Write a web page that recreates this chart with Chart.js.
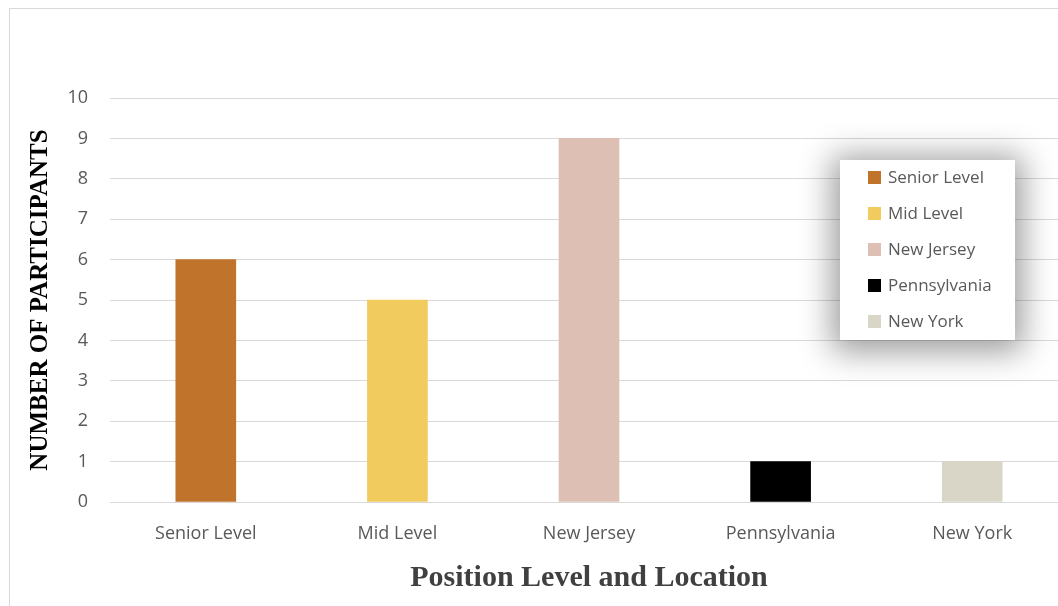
<!DOCTYPE html>
<html>
<head>
<meta charset="utf-8">
<script src="https://cdn.jsdelivr.net/npm/chart.js@4/dist/chart.umd.min.js"></script>
<style>
  html, body { margin: 0; padding: 0; background: #fff; overflow: hidden; }
  #frame {
    position: absolute; left: 9px; top: 8px; width: 1200px; height: 700px;
    border: 1px solid #d9d9d9; box-sizing: border-box;
  }
  #chart { position: absolute; left: 0; top: 0; }
  #legend {
    position: absolute; left: 840px; top: 160px; width: 175px; height: 180px;
    background: #fff; box-shadow: 0 4px 30px 8px rgba(0,0,0,0.38);
    box-sizing: border-box;
  }
  .item {
    position: absolute; left: 28px; height: 24px; line-height: 24px;
    font-family: "Open Sans", sans-serif; font-size: 17px; color: #595959;
    white-space: nowrap;
  }
  .sw { display: inline-block; width: 13px; height: 13px; margin-right: 7px; vertical-align: -1px; }
</style>
</head>
<body>
<div id="frame"></div>
<canvas id="chart" width="1072" height="606"></canvas>
<div id="legend"></div>
<script>
let categories = ['Senior Level', 'Mid Level', 'New Jersey', 'Pennsylvania', 'New York'];
let participants = [6, 5, 9, 1, 1];
let barColors = ['#c0732a', '#f2cb5e', '#ddbfb4', '#000000', '#d9d5c7'];
let yTicks = [0, 1, 2, 3, 4, 5, 6, 7, 8, 9, 10];

let textColor = '#595959';
let gridColor = '#d9d9d9';

// legend box, drawn as html over the plot
let legend = document.getElementById('legend');
categories.forEach((name, i) => {
    let div = document.createElement('div');
    div.className = 'item';
    div.style.top = (5 + i * 36) + 'px';
    div.innerHTML = '<span class="sw" style="background:' + barColors[i] + '"></span>' + name;
    legend.appendChild(div);
});

let ctx = document.getElementById('chart').getContext('2d');
let chart = new Chart(ctx, {
    type: 'bar',
    data: {
        labels: categories,
        datasets: [{
            label: 'Participants',
            data: participants,
            backgroundColor: barColors,
            barThickness: 60,
        }]
    },
    options: {
        responsive: false,
        animation: false,
        layout: { padding: { left: 0, right: 4, top: 98, bottom: 0 } },
        plugins: {
            legend: { display: false },
            tooltip: { enabled: false },
        },
        scales: {
            x: {
                grid: { display: false, drawTicks: false },
                border: { display: false },
                ticks: {
                    color: textColor,
                    font: { family: 'Open Sans', size: 18 },
                    padding: 21,
                    maxRotation: 0,
                },
                title: {
                    display: true,
                    text: 'Position Level and Location',
                    color: '#404040',
                    font: { family: 'Liberation Serif', size: 30, weight: 'bold' },
                    padding: { top: 0, bottom: 10 },
                },
                afterFit: (scale) => { scale.height = 104; },
            },
            y: {
                min: 0,
                max: 10,
                afterBuildTicks: (scale) => { scale.ticks = yTicks.map((v) => ({ value: v })); },
                grid: { color: gridColor, lineWidth: 1, drawTicks: false },
                border: { display: false },
                ticks: {
                    color: textColor,
                    font: { family: 'Open Sans', size: 18 },
                    padding: 22,
                },
                title: {
                    display: true,
                    text: 'NUMBER OF PARTICIPANTS',
                    color: '#000000',
                    font: { family: 'Liberation Serif', size: 25, weight: 'bold' },
                    padding: { top: 26, bottom: 0 },
                },
                afterFit: (scale) => { scale.width = 110; },
            }
        }
    }
});
</script>
</body>
</html>
